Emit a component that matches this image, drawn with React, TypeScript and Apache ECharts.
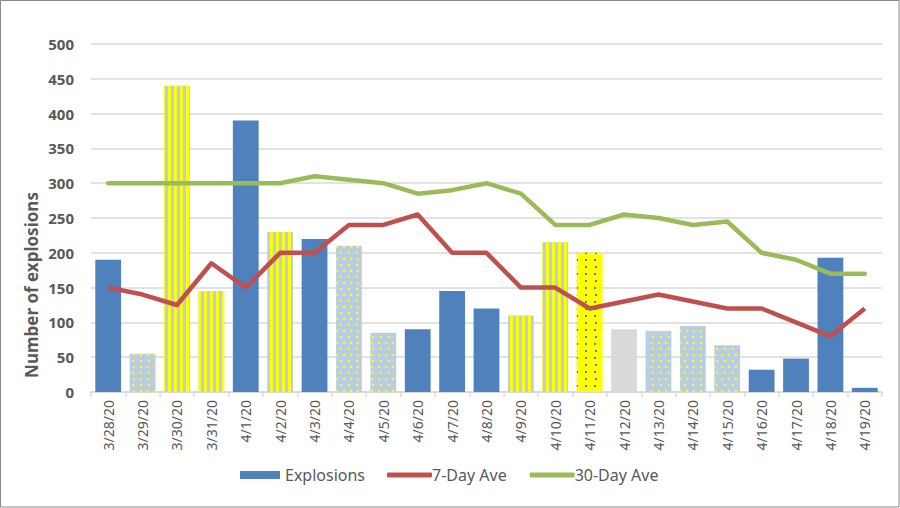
import React, { useEffect, useRef } from "react";
import * as echarts from "echarts";

const categories = [
  "3/28/20", "3/29/20", "3/30/20", "3/31/20", "4/1/20", "4/2/20", "4/3/20", "4/4/20",
  "4/5/20", "4/6/20", "4/7/20", "4/8/20", "4/9/20", "4/10/20", "4/11/20", "4/12/20",
  "4/13/20", "4/14/20", "4/15/20", "4/16/20", "4/17/20", "4/18/20", "4/19/20",
];
const explosions = [190, 55, 440, 145, 390, 230, 220, 210, 85, 90, 145, 120, 110, 215, 200, 90, 88, 95, 67, 32, 48, 193, 6];
const sevenDayAve = [150, 140, 125, 185, 150, 200, 200, 240, 240, 255, 200, 200, 150, 150, 120, 130, 140, 130, 120, 120, 100, 80, 120];
const thirtyDayAve = [300, 300, 300, 300, 300, 300, 310, 305, 300, 285, 290, 300, 285, 240, 240, 255, 250, 240, 245, 200, 190, 170, 170];
// bar fill style per day: s = solid blue, d = light blue dotted, v = yellow stripes, y = yellow dotted, g = gray
const barStyles = ["s", "d", "v", "v", "s", "v", "s", "d", "d", "s", "s", "s", "v", "v", "y", "g", "d", "d", "d", "s", "s", "s", "s"];

const BLUE = "#4F81BD";
const LIGHT = "#B9CDE5";
const YELLOW = "#FFFF00";
const RED = "#C0504D";
const GREEN = "#9BBB59";

function styleFor(k: string) {
  if (k === "d")
    return {
      color: LIGHT,
      decal: { symbol: "rect", symbolSize: 1, color: YELLOW, dashArrayX: [[2, 5], [0, 3.5, 2, 1.5]], dashArrayY: [2, 4], rotation: 0 },
    };
  if (k === "v")
    return {
      color: LIGHT,
      decal: { symbol: "rect", symbolSize: 1, color: YELLOW, dashArrayX: [3, 3], dashArrayY: [10, 0], rotation: 0 },
    };
  if (k === "y")
    return {
      color: YELLOW,
      decal: { symbol: "rect", symbolSize: 1, color: BLUE, dashArrayX: [[2, 7], [0, 4.5, 2, 2.5]], dashArrayY: [2, 4.5], rotation: 0 },
    };
  if (k === "g") return { color: "#D9D9D9" };
  return { color: BLUE };
}

export default function App() {
  const ref = useRef<HTMLDivElement>(null);
  useEffect(() => {
    document.body.style.margin = "0";
    const chart = echarts.init(ref.current!, undefined, { renderer: "svg" });
    const font = "Noto Sans";
    const legendText = { color: "#595959", fontSize: 16, fontFamily: font };
    chart.setOption({
      animation: false,
      backgroundColor: "#fff",
      grid: { left: 91, right: 18, top: 44, bottom: 116 },
      legend: [
        {
          top: 467,
          left: 240,
          padding: 0,
          itemWidth: 40,
          itemHeight: 8,
          itemGap: 0,
          textStyle: legendText,
          data: [{ name: "Explosions", icon: "rect" }],
        },
        {
          top: 467,
          left: 387,
          padding: 0,
          itemWidth: 45,
          itemHeight: 5,
          itemGap: 23,
          icon: "roundRect",
          textStyle: { ...legendText, padding: [0, 0, 0, -5] },
          data: ["7-Day Ave", "30-Day Ave"],
        },
      ],
      xAxis: {
        type: "category",
        data: categories,
        axisLine: { lineStyle: { color: "#D9D9D9", width: 1.5 } },
        axisTick: { show: true, length: 5, lineStyle: { color: "#D9D9D9", width: 1.5 } },
        axisLabel: { rotate: 90, color: "#595959", fontSize: 14, fontFamily: font, margin: 8, interval: 0 },
      },
      yAxis: {
        type: "value",
        min: 0,
        max: 500,
        interval: 50,
        axisLine: { show: false },
        axisTick: { show: false },
        splitLine: { lineStyle: { color: "#D9D9D9", width: 1.5 } },
        axisLabel: { color: "#595959", fontSize: 15, fontWeight: "bold", fontFamily: font, margin: 17 },
      },
      series: [
        {
          name: "Explosions",
          type: "bar",
          barCategoryGap: "25%",
          itemStyle: { color: BLUE },
          data: explosions.map((v, i) => ({ value: v, itemStyle: styleFor(barStyles[i]) })),
        },
        {
          name: "7-Day Ave",
          type: "line",
          data: sevenDayAve,
          symbol: "none",
          lineStyle: { color: RED, width: 4.5, join: "round" },
          itemStyle: { color: RED },
        },
        {
          name: "30-Day Ave",
          type: "line",
          data: thirtyDayAve,
          symbol: "none",
          lineStyle: { color: GREEN, width: 4.5, join: "round", cap: "round" },
          itemStyle: { color: GREEN },
        },
      ],
      graphic: [
        {
          type: "rect",
          shape: { x: 0.5, y: 0.5, width: 898.5, height: 506.5 },
          style: { fill: "none", stroke: "#888888", lineWidth: 1 },
          silent: true,
        },
        {
          type: "text",
          x: 31,
          y: 285,
          rotation: Math.PI / 2,
          style: {
            text: "Number of explosions",
            fill: "#595959",
            font: `bold 17px '${font}'`,
            align: "center",
            verticalAlign: "middle",
          },
        },
      ],
    });
    return () => chart.dispose();
  }, []);
  return <div ref={ref} style={{ width: 900, height: 508 }} />;
}
